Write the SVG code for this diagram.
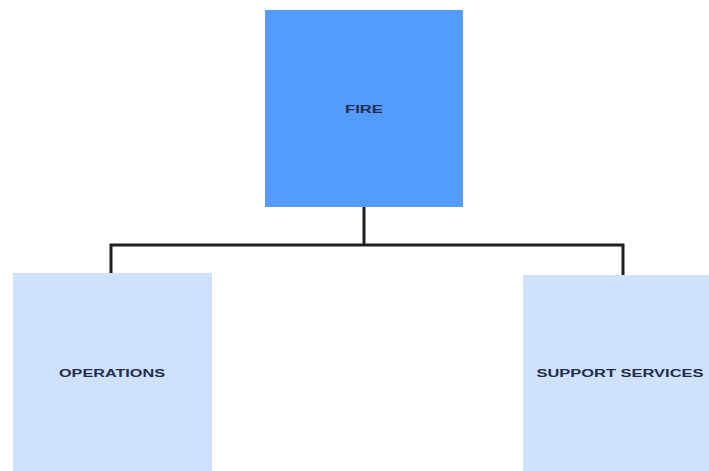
<svg xmlns="http://www.w3.org/2000/svg" width="709" height="471" viewBox="0 0 709 471">
<style>
.lbl{font-family:"Liberation Sans",Arial,sans-serif;font-weight:bold;font-size:11px;fill:#1f2d4d;text-anchor:middle;dominant-baseline:central}
.main{fill:#539bfd}
.sub{fill:#cfe1fd}
.conn{fill:none;stroke:#1e1e1e;stroke-width:3}
</style>
<rect width="709" height="471" fill="#ffffff"/>
<g id="connectors">
<path class="conn" d="M364 207 V245"/>
<path class="conn" d="M111 273 V245 H623 V275"/>
</g>
<g id="node-fire">
<rect class="main" x="265" y="10" width="198" height="197"/>
<text class="lbl" x="364" y="109" textLength="38" lengthAdjust="spacingAndGlyphs">FIRE</text>
</g>
<g id="node-operations">
<rect class="sub" x="13" y="273" width="199" height="198"/>
<text class="lbl" x="112" y="373" textLength="106" lengthAdjust="spacingAndGlyphs">OPERATIONS</text>
</g>
<g id="node-support">
<rect class="sub" x="523" y="275" width="186" height="196"/>
<text class="lbl" x="620" y="373" textLength="167" lengthAdjust="spacingAndGlyphs">SUPPORT SERVICES</text>
</g>
</svg>
